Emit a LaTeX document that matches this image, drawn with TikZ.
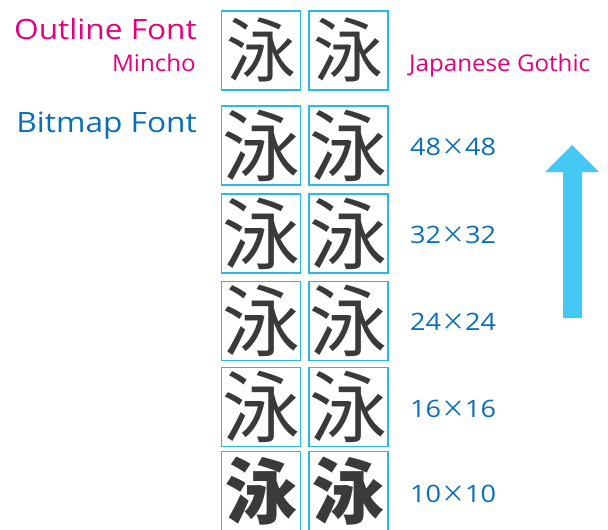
\documentclass[tikz,border=0pt]{standalone}
\usepackage{fontspec}
\setmainfont{Open Sans}
\newfontfamily\lbl[FakeStretch=1.13]{Open Sans}
\newfontfamily\lblsub[FakeStretch=1.05]{Open Sans}
\newfontfamily\jp{Noto Sans CJK JP}
\newcommand\tms{{\jp ×}}
\definecolor{mag}{HTML}{E5007F}
\definecolor{dblue}{HTML}{0A6FB8}
\definecolor{boxc}{HTML}{29B8EA}
\definecolor{arrc}{HTML}{45C8F4}
\definecolor{glyph}{HTML}{3A3A3A}
\begin{document}
\begin{tikzpicture}[x=1pt,y=-1pt,
  glyphbox/.style={draw=boxc, line width=1.5pt, minimum width=79pt, minimum height=79pt, inner sep=0pt, text=glyph, fill=white},
  mincho/.style={glyphbox, font=\jp\fontsize{70}{70}\selectfont},
  gothic/.style={glyphbox, font=\jp\fontsize{70}{70}\selectfont},
  bmin/.style={glyphbox, font=\jp\fontsize{78}{78}\selectfont},
  bgot/.style={glyphbox, font=\jp\fontsize{78}{78}\selectfont},
  bheavy/.style={glyphbox, font=\jp\bfseries\fontsize{72}{72}\selectfont},
  head/.style={inner sep=0pt, font=\lbl\fontsize{28}{28}\selectfont},
  sub/.style={inner sep=0pt, font=\lblsub\fontsize{23}{23}\selectfont, text=mag},
  dim/.style={inner sep=0pt, anchor=base west, font=\lbl\fontsize{24}{24}\selectfont, text=dblue}]
\useasboundingbox (0,0) rectangle (608,530);
\clip (0,0) rectangle (608,530);

% labels
\node[head, text=mag, anchor=base east] (outl) at (197,39) {Outline Font};
\node[sub, anchor=base east] (minc) at (196,71) {Mincho};
\node[sub, anchor=base west] (goth) at (409,71) {Japanese Gothic};
\node[head, text=dblue, anchor=base east] (bmp) at (197,132) {Bitmap Font};

% outline glyphs
\node[mincho] (om) at (261.2,50.5) {泳};
\node[gothic] (og) at (348.3,50.5) {泳};

% bitmap glyphs
\node[bmin] (m48) at (261.2,145.5) {泳};
\node[bgot] (g48) at (348.3,145.5) {泳};
\node[bmin] (m32) at (261.2,233.5) {泳};
\node[bgot] (g32) at (348.3,233.5) {泳};
\node[bmin] (m24) at (261.2,321.2) {泳};
\node[bgot] (g24) at (348.3,321.2) {泳};
\node[bmin] (m16) at (261.2,407.2) {泳};
\node[bgot] (g16) at (348.3,407.2) {泳};
\node[bheavy] (m10) at (261.2,491) {泳};
\node[bheavy] (g10) at (348.3,491) {泳};

% size labels
\node[dim] (d48) at (410,155) {48\tms48};
\node[dim] (d32) at (410,243) {32\tms32};
\node[dim] (d24) at (410,330) {24\tms24};
\node[dim] (d16) at (410,417) {16\tms16};
\node[dim] (d10) at (410,502) {10\tms10};

% arrow
\fill[arrc] (563,318) -- (563,172) -- (545,172) -- (572,145) -- (599,172) -- (582,172) -- (582,318) -- cycle;
\end{tikzpicture}
\end{document}
